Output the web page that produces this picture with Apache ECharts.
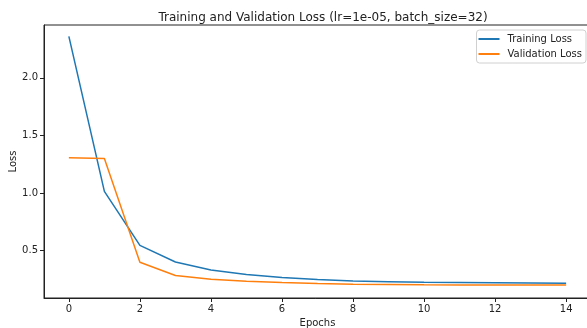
<!DOCTYPE html>
<html>
<head>
<meta charset="utf-8">
<script src="https://cdn.jsdelivr.net/npm/echarts@6/dist/echarts.min.js"></script>
<style>
  html, body { margin: 0; padding: 0; background: #fff; }
  #chart { width: 587px; height: 328px; }
</style>
</head>
<body>
<div id="chart"></div>
<script>
const epochs = [0, 1, 2, 3, 4, 5, 6, 7, 8, 9, 10, 11, 12, 13, 14];
const trainingLoss = [2.36, 1.014, 0.544, 0.40, 0.331, 0.291, 0.265, 0.247, 0.235, 0.229, 0.224, 0.221, 0.219, 0.217, 0.215];
const validationLoss = [1.305, 1.30, 0.398, 0.282, 0.25, 0.233, 0.222, 0.213, 0.207, 0.204, 0.202, 0.201, 0.201, 0.200, 0.200];
const xTicks = [0, 2, 4, 6, 8, 10, 12, 14];
const yTicks = [0.5, 1.0, 1.5, 2.0];

const font = "DejaVu Sans";
const ink = "#222";
const chart = echarts.init(document.getElementById("chart"), null, { renderer: "canvas" });

chart.setOption({
  animation: false,
  backgroundColor: "#fff",
  color: ["#1f77b4", "#ff7f0e"],
  title: {
    text: "Training and Validation Loss (lr=1e-05, batch_size=32)",
    left: 318,
    textAlign: "center",
    top: 7,
    textStyle: { fontFamily: font, fontSize: 12, fontWeight: "normal", color: ink },
  },
  legend: {
    orient: "vertical",
    right: 1,
    top: 30,
    padding: [4, 4, 4, 2],
    itemGap: 5,
    itemWidth: 21,
    itemHeight: 2,
    icon: "rect",
    borderColor: "#d0d0d0",
    borderWidth: 1,
    borderRadius: 3,
    backgroundColor: "rgba(255,255,255,0.8)",
    textStyle: { fontFamily: font, fontSize: 10, color: ink, padding: [0, 0, 0, 3] },
    data: ["Training Loss", "Validation Loss"],
  },
  grid: {
    left: 44,
    right: -4,
    top: 25,
    bottom: 30,
    outerBoundsMode: "none",
    containLabel: false,
    show: true,
    borderColor: ink,
    borderWidth: 1,
  },
  xAxis: {
    type: "value",
    min: -0.7,
    max: 14.7,
    name: "Epochs",
    nameLocation: "middle",
    nameGap: 20,
    nameMoveOverlap: false,
    nameTextStyle: { fontFamily: font, fontSize: 10, color: ink },
    axisLine: { onZero: false, lineStyle: { color: ink, width: 1 } },
    axisTick: { show: true, length: 4, customValues: xTicks, lineStyle: { color: ink } },
    axisLabel: { customValues: xTicks, fontFamily: font, fontSize: 10, color: ink, margin: 6 },
    splitLine: { show: false },
  },
  yAxis: {
    type: "value",
    min: 0.087,
    max: 2.459,
    name: "Loss",
    nameLocation: "middle",
    nameGap: 26,
    nameMoveOverlap: false,
    nameTextStyle: { fontFamily: font, fontSize: 10, color: ink },
    axisLine: { show: true, onZero: false, lineStyle: { color: ink, width: 1 } },
    axisTick: { show: true, length: 4, customValues: yTicks, lineStyle: { color: ink } },
    axisLabel: {
      customValues: yTicks,
      fontFamily: font,
      fontSize: 10,
      color: ink,
      margin: 6,
      formatter: (v) => v.toFixed(1),
    },
    splitLine: { show: false },
  },
  series: [
    {
      name: "Training Loss",
      type: "line",
      symbol: "none",
      lineStyle: { width: 1.5 },
      data: epochs.map((e, i) => [e, trainingLoss[i]]),
    },
    {
      name: "Validation Loss",
      type: "line",
      symbol: "none",
      lineStyle: { width: 1.5 },
      data: epochs.map((e, i) => [e, validationLoss[i]]),
    },
  ],
});
</script>
</body>
</html>
